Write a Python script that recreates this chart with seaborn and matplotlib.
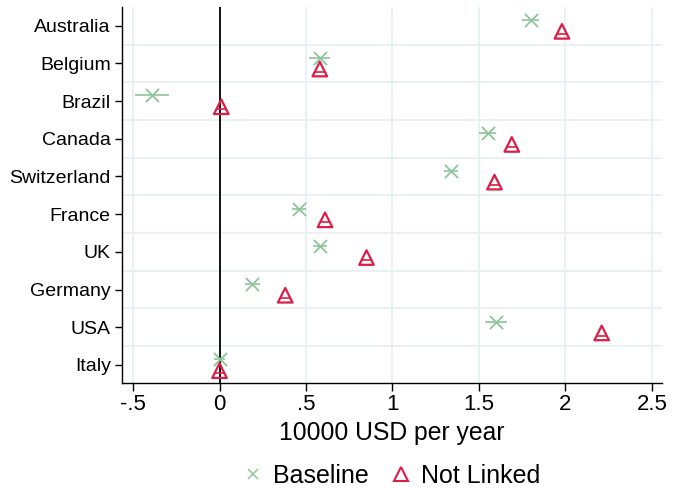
import matplotlib
matplotlib.use("Agg")
import matplotlib.pyplot as plt
from matplotlib.lines import Line2D
import seaborn as sns
import pandas as pd
import numpy as np

countries = ["Australia", "Belgium", "Brazil", "Canada", "Switzerland",
             "France", "UK", "Germany", "USA", "Italy"]
baseline = [1.80, 0.58, -0.39, 1.55, 1.34, 0.46, 0.58, 0.19, 1.60, 0.00]
baseline_ci = [0.05, 0.06, 0.10, 0.05, 0.04, 0.04, 0.04, 0.045, 0.065, 0.03]
not_linked = [1.98, 0.58, 0.01, 1.69, 1.59, 0.61, 0.85, 0.38, 2.21, 0.00]
not_linked_ci = [0.03, 0.03, 0.03, 0.03, 0.03, 0.03, 0.03, 0.03, 0.03, 0.03]
xticks = [-0.5, 0, 0.5, 1, 1.5, 2, 2.5]
xtick_labels = ["-.5", "0", ".5", "1", "1.5", "2", "2.5"]

green = "#8fc59a"
red = "#dc1e46"
off = 0.15

sns.set_style("white")
plt.rcParams["font.family"] = ["Liberation Sans", "DejaVu Sans"]
plt.rcParams["text.color"] = "black"
plt.rcParams["axes.labelcolor"] = "black"
plt.rcParams["xtick.color"] = "black"
plt.rcParams["ytick.color"] = "black"

pos = np.arange(len(countries))
df_b = pd.DataFrame({"x": baseline, "y": pos - off, "ci": baseline_ci})
df_n = pd.DataFrame({"x": not_linked, "y": pos + off, "ci": not_linked_ci})

fig = plt.figure(figsize=(6.73, 4.88), dpi=100)
ax = fig.add_axes([0.181, 0.215, 0.803, 0.771])

# grid
for g in np.arange(0.5, len(countries), 1.0):
    ax.axhline(g, color="#e6eff1", lw=1.2, zorder=0)
for t in xticks:
    ax.axvline(t, color="#e6eff1", lw=1.2, zorder=0)
ax.axvline(0, color="black", lw=1.3, zorder=1)

# CIs
ax.hlines(df_b["y"], df_b["x"] - df_b["ci"], df_b["x"] + df_b["ci"], color=green, lw=1.2, zorder=2)
ax.hlines(df_n["y"] + 0.07, df_n["x"] - df_n["ci"], df_n["x"] + df_n["ci"], color=red, lw=1.2, zorder=2)

sns.scatterplot(data=df_b, x="x", y="y", marker="x", s=90, color=green, linewidth=1.3, ax=ax, zorder=3)
sns.scatterplot(data=df_n, x="x", y="y", marker="^", s=110, facecolor="none", edgecolor=red, linewidth=1.6, ax=ax, zorder=3)

ax.set_xlim(-0.565, 2.56)
ax.set_ylim(len(countries) - 0.52, -0.5)
ax.set_yticks(pos)
ax.set_yticklabels(countries, fontsize=14, color="black")
ax.set_xticks(xticks)
ax.set_xticklabels(xtick_labels, fontsize=16, color="black")
ax.set_xlabel("10000 USD per year", fontsize=17.8, labelpad=4, color="black")
ax.set_ylabel("")
ax.tick_params(axis="both", direction="out", length=5, width=1, color="black", left=True, bottom=True)
ax.tick_params(axis="x", length=6, pad=2)
ax.tick_params(axis="y", pad=3)

for s in ["top", "right"]:
    ax.spines[s].set_visible(False)
for s in ["left", "bottom"]:
    ax.spines[s].set_color("black")
    ax.spines[s].set_linewidth(1.0)

handles = [Line2D([], [], ls="none", marker="x", color=green, markersize=7, mew=1.1),
           Line2D([], [], ls="none", marker="^", markerfacecolor="none", markeredgecolor=red, markersize=10, mew=1.5)]
leg = fig.legend(handles, ["Baseline", "Not Linked"], loc="center", bbox_to_anchor=(0.578, 0.025),
                 ncol=2, frameon=False, fontsize=18, handletextpad=0.2, columnspacing=0.7, handlelength=1.2)
for t in leg.get_texts():
    t.set_color("black")

fig.savefig("out.png", dpi=100)
